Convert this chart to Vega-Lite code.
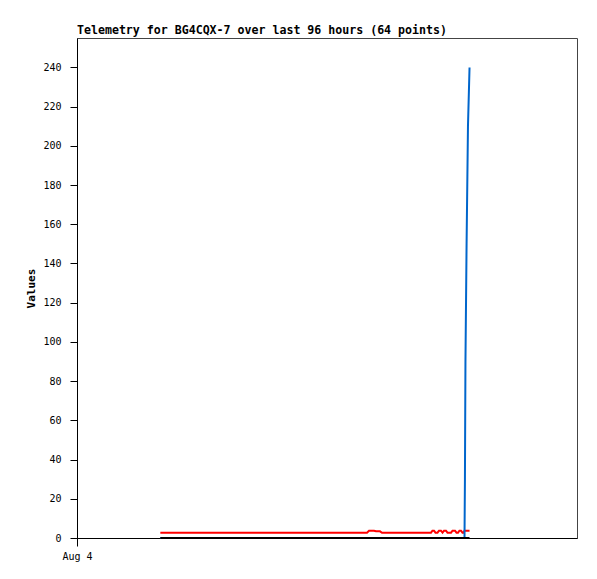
{
  "$schema": "https://vega.github.io/schema/vega-lite/v6.json",
  "autosize": "none",
  "width": 500,
  "height": 500,
  "padding": {"left": 77, "top": 38, "right": 20, "bottom": 41},
  "background": "white",
  "config": {
    "view": {"stroke": "#444444", "strokeWidth": 1},
    "font": "DejaVu Sans Mono",
    "axis": {"grid": false, "domainColor": "black", "tickColor": "black", "labelColor": "black", "titleColor": "black", "labelFont": "DejaVu Sans Mono", "labelFontSize": 10, "titleFont": "DejaVu Sans Mono", "titleFontSize": 11, "titleFontWeight": "bold"}
  },
  "title": {"text": "Telemetry for BG4CQX-7 over last 96 hours (64 points)", "anchor": "start", "frame": "group", "font": "DejaVu Sans Mono", "fontSize": 11.6, "fontWeight": "bold", "color": "black", "baseline": "alphabetic", "offset": 3, "dy": 11},
  "data": {"values": [
    {"t": "2024-08-04T16:00", "red": 2.7, "blue": 0, "black": 0},
    {"t": "2024-08-04T17:30", "red": 2.7, "blue": 0, "black": 0},
    {"t": "2024-08-04T19:00", "red": 2.7, "blue": 0, "black": 0},
    {"t": "2024-08-04T20:30", "red": 2.7, "blue": 0, "black": 0},
    {"t": "2024-08-04T22:00", "red": 2.7, "blue": 0, "black": 0},
    {"t": "2024-08-04T23:30", "red": 2.7, "blue": 0, "black": 0},
    {"t": "2024-08-05T01:00", "red": 2.7, "blue": 0, "black": 0},
    {"t": "2024-08-05T02:30", "red": 2.7, "blue": 0, "black": 0},
    {"t": "2024-08-05T04:00", "red": 2.7, "blue": 0, "black": 0},
    {"t": "2024-08-05T05:30", "red": 2.7, "blue": 0, "black": 0},
    {"t": "2024-08-05T07:00", "red": 2.7, "blue": 0, "black": 0},
    {"t": "2024-08-05T08:30", "red": 2.7, "blue": 0, "black": 0},
    {"t": "2024-08-05T10:00", "red": 2.7, "blue": 0, "black": 0},
    {"t": "2024-08-05T11:30", "red": 2.7, "blue": 0, "black": 0},
    {"t": "2024-08-05T13:00", "red": 2.7, "blue": 0, "black": 0},
    {"t": "2024-08-05T14:30", "red": 2.7, "blue": 0, "black": 0},
    {"t": "2024-08-05T16:00", "red": 2.7, "blue": 0, "black": 0},
    {"t": "2024-08-05T17:30", "red": 2.7, "blue": 0, "black": 0},
    {"t": "2024-08-05T19:00", "red": 2.7, "blue": 0, "black": 0},
    {"t": "2024-08-05T20:30", "red": 2.7, "blue": 0, "black": 0},
    {"t": "2024-08-05T22:00", "red": 2.7, "blue": 0, "black": 0},
    {"t": "2024-08-05T23:30", "red": 2.7, "blue": 0, "black": 0},
    {"t": "2024-08-06T01:00", "red": 2.7, "blue": 0, "black": 0},
    {"t": "2024-08-06T02:30", "red": 2.7, "blue": 0, "black": 0},
    {"t": "2024-08-06T04:00", "red": 2.7, "blue": 0, "black": 0},
    {"t": "2024-08-06T07:41", "red": 2.7, "blue": 0, "black": 0},
    {"t": "2024-08-06T08:04", "red": 3.7, "blue": 0, "black": 0},
    {"t": "2024-08-06T09:01", "red": 3.7, "blue": 0, "black": 0},
    {"t": "2024-08-06T09:25", "red": 3.4, "blue": 0, "black": 0},
    {"t": "2024-08-06T10:11", "red": 3.4, "blue": 0, "black": 0},
    {"t": "2024-08-06T10:34", "red": 2.7, "blue": 0, "black": 0},
    {"t": "2024-08-06T12:06", "red": 2.7, "blue": 0, "black": 0},
    {"t": "2024-08-06T13:38", "red": 2.7, "blue": 0, "black": 0},
    {"t": "2024-08-06T15:10", "red": 2.7, "blue": 0, "black": 0},
    {"t": "2024-08-06T16:42", "red": 2.7, "blue": 0, "black": 0},
    {"t": "2024-08-06T18:14", "red": 2.7, "blue": 0, "black": 0},
    {"t": "2024-08-06T19:35", "red": 2.7, "blue": 0, "black": 0},
    {"t": "2024-08-06T19:58", "red": 2.7, "blue": 0, "black": 0},
    {"t": "2024-08-06T20:15", "red": 3.7, "blue": 0, "black": 0},
    {"t": "2024-08-06T20:33", "red": 3.7, "blue": 0, "black": 0},
    {"t": "2024-08-06T20:50", "red": 2.7, "blue": 0, "black": 0},
    {"t": "2024-08-06T21:13", "red": 2.7, "blue": 0, "black": 0},
    {"t": "2024-08-06T21:30", "red": 3.7, "blue": 0, "black": 0},
    {"t": "2024-08-06T21:53", "red": 3.7, "blue": 0, "black": 0},
    {"t": "2024-08-06T22:11", "red": 2.7, "blue": 0, "black": 0},
    {"t": "2024-08-06T22:28", "red": 3.7, "blue": 0, "black": 0},
    {"t": "2024-08-06T22:51", "red": 3.7, "blue": 0, "black": 0},
    {"t": "2024-08-06T23:08", "red": 2.7, "blue": 0, "black": 0},
    {"t": "2024-08-06T23:31", "red": 2.7, "blue": 0, "black": 0},
    {"t": "2024-08-06T23:49", "red": 2.7, "blue": 0, "black": 0},
    {"t": "2024-08-07T00:06", "red": 3.7, "blue": 0, "black": 0},
    {"t": "2024-08-07T00:35", "red": 3.7, "blue": 0, "black": 0},
    {"t": "2024-08-07T00:52", "red": 2.7, "blue": 0, "black": 0},
    {"t": "2024-08-07T01:09", "red": 2.7, "blue": 0, "black": 0},
    {"t": "2024-08-07T01:26", "red": 3.7, "blue": 0, "black": 0},
    {"t": "2024-08-07T01:44", "red": 3.7, "blue": 0, "black": 0},
    {"t": "2024-08-07T02:01", "red": 2.7, "blue": 0, "black": 0},
    {"t": "2024-08-07T02:13", "red": 2.7, "blue": 0, "black": 0},
    {"t": "2024-08-07T02:24", "red": 3.7, "blue": 0, "black": 0},
    {"t": "2024-08-07T02:29", "red": 3.7, "blue": 30, "black": 0},
    {"t": "2024-08-07T02:35", "red": 3.7, "blue": 90, "black": 0},
    {"t": "2024-08-07T02:48", "red": 3.7, "blue": 150, "black": 0},
    {"t": "2024-08-07T03:04", "red": 3.7, "blue": 210, "black": 0},
    {"t": "2024-08-07T03:22", "red": 3.7, "blue": 240, "black": 0}
  ]},
  "encoding": {
    "x": {"field": "t", "type": "temporal",
      "scale": {"domain": [{"year": 2024, "month": 8, "date": 4}, {"year": 2024, "month": 8, "date": 8}]},
      "axis": {"title": null, "values": [{"year": 2024, "month": 8, "date": 4}], "format": "%b %-d", "tickSize": 8, "labelPadding": 5, "labelFlush": false}}
  },
  "layer": [
    {"mark": {"type": "line", "color": "#ff0000", "strokeWidth": 2},
     "encoding": {"y": {"field": "red", "type": "quantitative",
        "scale": {"domain": [0, 255], "nice": false, "zero": true},
        "axis": {"title": "Values", "values": [0, 20, 40, 60, 80, 100, 120, 140, 160, 180, 200, 220, 240], "tickSize": 7, "labelPadding": 9, "titlePadding": 6}}}},
    {"mark": {"type": "line", "color": "#0066cc", "strokeWidth": 2},
     "encoding": {"y": {"field": "blue", "type": "quantitative"}}},
    {"mark": {"type": "line", "color": "#000000", "strokeWidth": 2},
     "encoding": {"y": {"field": "black", "type": "quantitative"}}}
  ]
}
